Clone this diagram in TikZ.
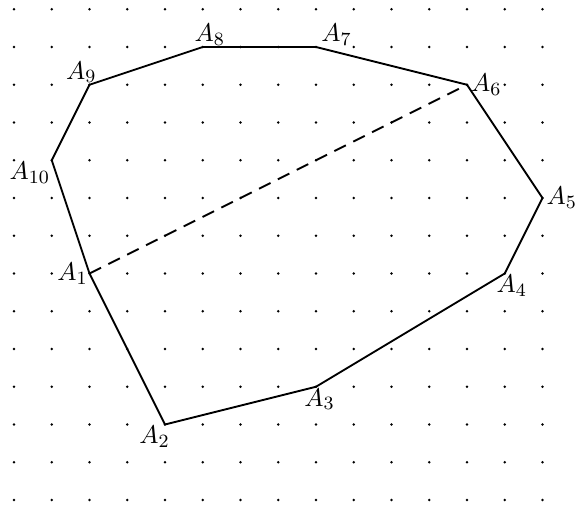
\documentclass[tikz,border=0pt]{standalone}
\usepackage{tikz}
\usetikzlibrary{positioning}
\tikzset{
  griddot/.style={fill=black},
  edgeline/.style={thick,draw=black,line join=miter},
  diagline/.style={thick,draw=black,dash pattern=on 5.5pt off 3.5pt},
  vlabel/.style={inner sep=0.6pt,font=\fontsize{11}{13}\selectfont}
}

\begin{document}
\begin{tikzpicture}[x=0.567cm,y=0.567cm,node distance=0pt]
\useasboundingbox (-0.371,-0.159) rectangle (14.914,13.245);
\foreach \i in {0,...,14}
  \foreach \j in {0,...,13}
    \fill[griddot] (\i,\j) circle (0.55pt);
\coordinate (A1) at (2,6);
\coordinate (A2) at (4,2);
\coordinate (A3) at (8,3);
\coordinate (A4) at (13,6);
\coordinate (A5) at (14,8);
\coordinate (A6) at (12,11);
\coordinate (A7) at (8,12);
\coordinate (A8) at (5,12);
\coordinate (A9) at (2,11);
\coordinate (A10) at (1,9);
\draw[edgeline] (A1) -- (A2) -- (A3) -- (A4) -- (A5) -- (A6) -- (A7) -- (A8) -- (A9) -- (A10) -- cycle;
\draw[diagline] (A1) -- (A6);
\node[vlabel,left=of A1] (lA1) {$A_1$};
\node[vlabel,below=of A2,xshift=-4.5pt] (lA2) {$A_2$};
\node[vlabel,below=of A3,xshift=1.5pt] (lA3) {$A_3$};
\node[vlabel,below=of A4,xshift=3pt] (lA4) {$A_4$};
\node[vlabel,right=1pt of A5] (lA5) {$A_5$};
\node[vlabel,right=1pt of A6] (lA6) {$A_6$};
\node[vlabel,above right=of A7,xshift=1.5pt] (lA7) {$A_7$};
\node[vlabel,above=of A8,xshift=3pt] (lA8) {$A_8$};
\node[vlabel,above=of A9,xshift=-3.5pt] (lA9) {$A_9$};
\node[vlabel,below left=of A10] (lA10) {$A_{10}$};
\end{tikzpicture}
\end{document}
